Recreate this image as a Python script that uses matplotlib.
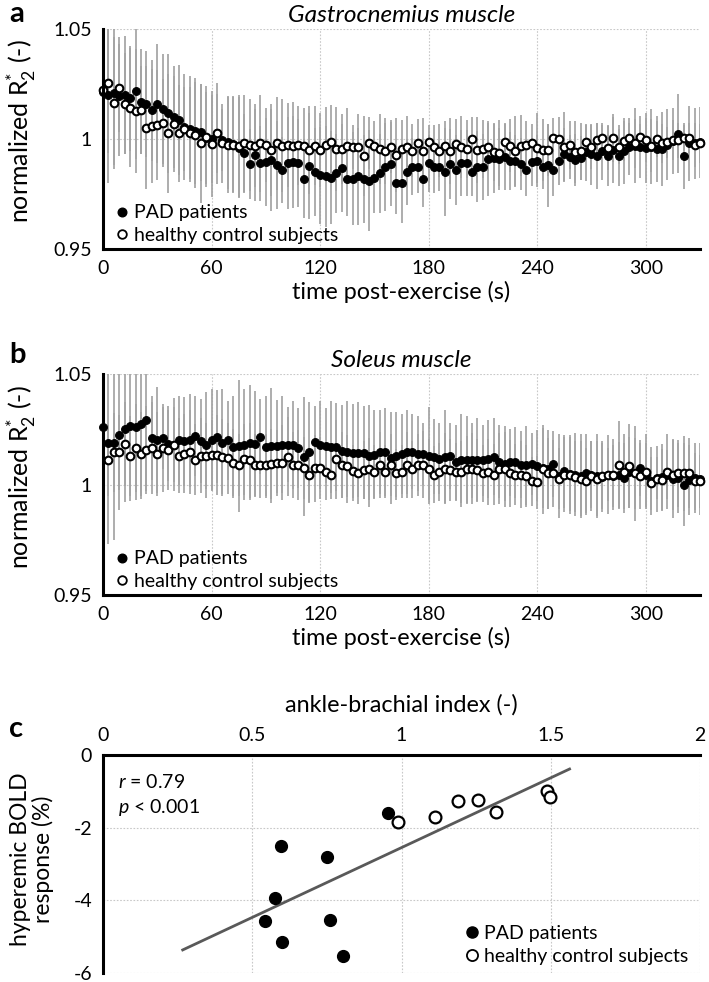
import numpy as np
import matplotlib
matplotlib.use('Agg')
import matplotlib.pyplot as plt
from matplotlib.lines import Line2D

plt.rcParams['font.family'] = ['Lato', 'DejaVu Sans']
plt.rcParams['mathtext.fontset'] = 'custom'
plt.rcParams['mathtext.rm'] = 'Lato'
plt.rcParams['mathtext.it'] = 'Lato:italic'

# ---------------- data ----------------
time_s = np.arange(0, 331, 3)          # sampling instants (s), every 3 s

# panel a : gastrocnemius
gas_hc = [1.0225, 1.0255, 1.0162, 1.0230, 1.0160, 1.0142, 1.0127, 1.0132, 1.0051, 1.0060,
          1.0064, 1.0074, 1.0026, 1.0068, 1.0026, 1.0045, 1.0026, 1.0018, 0.9980, 1.0010,
          0.9976, 1.0026, 0.9980, 0.9973, 0.9973, 0.9968, 0.9980, 0.9973, 0.9970, 0.9980,
          0.9973, 0.9950, 0.9980, 0.9970, 0.9972, 0.9970, 0.9972, 0.9970, 0.9950, 0.9970,
          0.9950, 0.9975, 0.9985, 0.9955, 0.9955, 0.9970, 0.9965, 0.9965, 0.9923, 0.9982,
          0.9970, 0.9955, 0.9946, 0.9965, 0.9927, 0.9955, 0.9965, 0.9946, 0.9980, 0.9946,
          0.9985, 0.9965, 0.9946, 0.9970, 0.9945, 0.9979, 0.9965, 0.9955, 1.0000, 0.9950,
          0.9955, 0.9965, 0.9940, 0.9935, 0.9985, 0.9970, 0.9945, 0.9970, 0.9973, 0.9980,
          0.9960, 0.9950, 0.9950, 1.0005, 1.0000, 0.9965, 0.9973, 0.9940, 0.9945, 0.9985,
          0.9965, 0.9995, 1.0005, 0.9960, 1.0005, 0.9965, 0.9990, 1.0005, 0.9980, 1.0010,
          0.9995, 0.9970, 1.0000, 0.9980, 0.9985, 0.9995, 0.9995, 1.0005, 1.0005, 0.9975, 0.9980]
gas_hc_sd = [0.030, 0.032, 0.030, 0.020, 0.023, 0.027, 0.028, 0.020, 0.028, 0.026,
             0.025, 0.020, 0.027, 0.022, 0.022, 0.019, 0.021, 0.024, 0.027, 0.023,
             0.024, 0.023, 0.018, 0.022, 0.022, 0.023, 0.022, 0.021, 0.019, 0.022,
             0.017, 0.021, 0.021, 0.021, 0.019, 0.020, 0.018, 0.017, 0.020, 0.018,
             0.017, 0.017, 0.017, 0.019, 0.016, 0.017, 0.010, 0.015, 0.018, 0.012,
             0.011, 0.016, 0.015, 0.012, 0.017, 0.013, 0.014, 0.012, 0.011, 0.015,
             0.008, 0.010, 0.012, 0.011, 0.015, 0.011, 0.014, 0.013, 0.010, 0.015,
             0.013, 0.011, 0.013, 0.015, 0.009, 0.012, 0.016, 0.014, 0.011, 0.009,
             0.016, 0.014, 0.012, 0.009, 0.010, 0.016, 0.011, 0.014, 0.013, 0.008,
             0.010, 0.008, 0.006, 0.010, 0.011, 0.008, 0.009, 0.007, 0.011, 0.006,
             0.010, 0.012, 0.008, 0.009, 0.007, 0.009, 0.008, 0.006, 0.007, 0.010, 0.009]
gas_pad = [1.0215, 1.0200, 1.0210, 1.0195, 1.0200, 1.0185, 1.0220, 1.0170, 1.0160, 1.0130,
           1.0160, 1.0135, 1.0117, 1.0100, 1.0086, 1.0055, 1.0045, 1.0036, 1.0030, 1.0005,
           1.0000, 1.0026, 0.9995, 0.9985, 0.9977, 0.9960, 0.9935, 0.9886, 0.9927, 0.9890,
           0.9895, 0.9905, 0.9880, 0.9860, 0.9890, 0.9895, 0.9890, 0.9820, 0.9877, 0.9850,
           0.9835, 0.9830, 0.9825, 0.9845, 0.9870, 0.9820, 0.9820, 0.9830, 0.9820, 0.9810,
           0.9825, 0.9845, 0.9875, 0.9886, 0.9800, 0.9800, 0.9850, 0.9875, 0.9875, 0.9820,
           0.9890, 0.9875, 0.9875, 0.9850, 0.9886, 0.9860, 0.9890, 0.9890, 0.9850, 0.9875,
           0.9872, 0.9910, 0.9913, 0.9910, 0.9918, 0.9900, 0.9900, 0.9886, 0.9860, 0.9895,
           0.9900, 0.9872, 0.9880, 0.9860, 0.9900, 0.9930, 0.9920, 0.9905, 0.9915, 0.9940,
           0.9930, 0.9925, 0.9945, 0.9925, 0.9950, 0.9925, 0.9945, 0.9965, 0.9970, 0.9965,
           0.9960, 0.9965, 0.9955, 0.9955, 0.9975, 0.9990, 1.0025, 0.9925, 0.9980, 0.9980, 0.9985]
gas_pad_sd = [0.040, 0.040, 0.033, 0.027, 0.027, 0.024, 0.031, 0.024, 0.024, 0.023,
              0.027, 0.025, 0.027, 0.023, 0.025, 0.024, 0.024, 0.024, 0.022, 0.021,
              0.020, 0.018, 0.014, 0.021, 0.022, 0.023, 0.018, 0.016, 0.021, 0.017,
              0.020, 0.023, 0.020, 0.015, 0.021, 0.021, 0.020, 0.018, 0.024, 0.020,
              0.022, 0.023, 0.021, 0.018, 0.020, 0.017, 0.021, 0.022, 0.020, 0.023,
              0.016, 0.018, 0.020, 0.019, 0.014, 0.018, 0.015, 0.013, 0.012, 0.013,
              0.013, 0.012, 0.011, 0.020, 0.016, 0.016, 0.015, 0.015, 0.011, 0.016,
              0.015, 0.017, 0.016, 0.014, 0.015, 0.013, 0.012, 0.012, 0.012, 0.011,
              0.012, 0.010, 0.019, 0.012, 0.011, 0.012, 0.010, 0.012, 0.010, 0.013,
              0.014, 0.015, 0.013, 0.014, 0.015, 0.014, 0.015, 0.013, 0.017, 0.014,
              0.016, 0.017, 0.015, 0.017, 0.016, 0.015, 0.018, 0.015, 0.017, 0.016, 0.016]

# panel b : soleus
sol_hc = [np.nan, 1.0110, 1.0145, 1.0145, 1.0182, 1.0130, 1.0165, 1.0140, 1.0155, 1.0165,
          1.0140, 1.0165, 1.0155, 1.0180, 1.0130, 1.0140, 1.0145, 1.0113, 1.0130, 1.0130,
          1.0133, 1.0133, 1.0125, 1.0118, 1.0099, 1.0088, 1.0114, 1.0110, 1.0088, 1.0088,
          1.0088, 1.0093, 1.0096, 1.0099, 1.0126, 1.0088, 1.0088, 1.0073, 1.0043, 1.0073,
          1.0073, 1.0058, 1.0043, 1.0114, 1.0088, 1.0084, 1.0060, 1.0052, 1.0065, 1.0070,
          1.0057, 1.0087, 1.0057, 1.0087, 1.0052, 1.0057, 1.0087, 1.0068, 1.0090, 1.0090,
          1.0068, 1.0045, 1.0057, 1.0071, 1.0066, 1.0057, 1.0057, 1.0068, 1.0071, 1.0066,
          1.0050, 1.0057, 1.0045, 1.0071, 1.0068, 1.0050, 1.0045, 1.0045, 1.0038, 1.0014,
          1.0010, 1.0068, 1.0050, 1.0050, 1.0027, 1.0045, 1.0045, 1.0035, 1.0027, 1.0014,
          1.0038, 1.0027, 1.0038, 1.0045, 1.0045, 1.0087, 1.0057, 1.0084, 1.0050, 1.0038,
          1.0057, 1.0005, 1.0024, 1.0020, 1.0057, 1.0045, 1.0050, 1.0050, 1.0052, 1.0014, 1.0014]
sol_hc_sd = [0.016, 0.016, 0.018, 0.017, 0.019, 0.018, 0.020, 0.019, 0.020, 0.021,
             0.019, 0.020, 0.018, 0.021, 0.017, 0.018, 0.019, 0.016, 0.017, 0.015,
             0.016, 0.018, 0.017, 0.016, 0.015, 0.014, 0.016, 0.017, 0.014, 0.015,
             0.014, 0.016, 0.015, 0.017, 0.018, 0.015, 0.016, 0.014, 0.012, 0.015,
             0.014, 0.013, 0.011, 0.018, 0.015, 0.014, 0.012, 0.011, 0.013, 0.014,
             0.012, 0.015, 0.012, 0.014, 0.011, 0.012, 0.015, 0.013, 0.014, 0.015,
             0.014, 0.013, 0.013, 0.016, 0.014, 0.013, 0.014, 0.015, 0.016, 0.014,
             0.013, 0.015, 0.014, 0.016, 0.017, 0.015, 0.014, 0.015, 0.014, 0.011,
             0.012, 0.020, 0.016, 0.015, 0.014, 0.017, 0.018, 0.016, 0.017, 0.015,
             0.016, 0.017, 0.015, 0.018, 0.016, 0.020, 0.017, 0.019, 0.016, 0.015,
             0.017, 0.012, 0.015, 0.014, 0.017, 0.016, 0.015, 0.017, 0.016, 0.013, 0.012]
sol_pad = [1.0262, 1.0190, 1.0190, 1.0224, 1.0250, 1.0265, 1.0262, 1.0275, 1.0290, 1.0210,
           1.0200, 1.0210, 1.0185, 1.0180, 1.0200, 1.0195, 1.0200, 1.0220, 1.0195, 1.0180,
           1.0200, 1.0216, 1.0190, 1.0200, 1.0170, 1.0175, 1.0180, 1.0190, 1.0185, 1.0216,
           1.0170, 1.0175, 1.0172, 1.0180, 1.0180, 1.0180, 1.0165, 1.0126, 1.0145, 1.0194,
           1.0178, 1.0175, 1.0170, 1.0170, 1.0150, 1.0148, 1.0144, 1.0142, 1.0144, 1.0130,
           1.0135, 1.0148, 1.0148, 1.0120, 1.0130, 1.0138, 1.0145, 1.0148, 1.0140, 1.0140,
           1.0130, 1.0125, 1.0117, 1.0125, 1.0130, 1.0100, 1.0110, 1.0110, 1.0110, 1.0110,
           1.0110, 1.0115, 1.0126, 1.0104, 1.0094, 1.0100, 1.0100, 1.0090, 1.0086, 1.0094,
           1.0085, 1.0075, 1.0068, 1.0094, 1.0040, 1.0060, 1.0048, 1.0045, 1.0040, 1.0050,
           1.0045, 1.0040, 1.0035, 1.0045, 1.0040, 1.0042, 1.0030, 1.0055, 1.0050, 1.0075,
           1.0045, 1.0015, 1.0030, 1.0035, 1.0045, 1.0025, 1.0030, 1.0000, 1.0020, 1.0030, 1.0025]
sol_pad_sd = [0.050, 0.046, 0.044, 0.034, 0.033, 0.034, 0.033, 0.034, 0.032, 0.019,
              0.024, 0.014, 0.017, 0.017, 0.020, 0.020, 0.021, 0.018, 0.019, 0.024,
              0.023, 0.021, 0.024, 0.018, 0.023, 0.030, 0.025, 0.026, 0.024, 0.017,
              0.023, 0.026, 0.021, 0.022, 0.017, 0.020, 0.018, 0.027, 0.023, 0.016,
              0.020, 0.017, 0.021, 0.020, 0.021, 0.023, 0.022, 0.023, 0.021, 0.023,
              0.020, 0.019, 0.020, 0.021, 0.020, 0.018, 0.019, 0.017, 0.017, 0.014,
              0.022, 0.017, 0.016, 0.021, 0.015, 0.017, 0.021, 0.020, 0.017, 0.019,
              0.016, 0.0175, 0.0175, 0.0165, 0.017, 0.015, 0.016, 0.015, 0.018, 0.014,
              0.016, 0.018, 0.018, 0.015, 0.019, 0.0165, 0.0167, 0.0187, 0.019, 0.018,
              0.015, 0.019, 0.016, 0.012, 0.014, 0.015, 0.016, 0.016, 0.0214, 0.0125,
              0.0145, 0.0155, 0.0096, 0.015, 0.011, 0.0175, 0.016, 0.019, 0.016, 0.016, 0.0165]

# panel c : ankle-brachial index vs hyperemic BOLD response
pad_abi = [0.597, 0.750, 0.577, 0.543, 0.760, 0.600, 0.804, 0.954]
pad_bold = [-2.50, -2.81, -3.93, -4.57, -4.55, -5.14, -5.53, -1.60]
hc_abi = [0.987, 1.113, 1.190, 1.257, 1.317, 1.487, 1.497]
hc_bold = [-1.84, -1.70, -1.27, -1.25, -1.57, -0.99, -1.16]
fit_range = [0.267, 1.563]
stats_text = ['$r$ = 0.79', '$p$ < 0.001']

time_ticks = [0, 60, 120, 180, 240, 300]
r2_ticks = [0.95, 1.0, 1.05]
r2_ticklabels = ['0.95', '1', '1.05']
abi_ticks = [0, 0.5, 1, 1.5, 2]
abi_ticklabels = ['0', '0.5', '1', '1.5', '2']
bold_ticks = [0, -2, -4, -6]
bold_ticklabels = ['0', '-2', '-4', '-6']

# ---------------- style ----------------
BAR = '#a3a3a3'
GRID = '#c8c8c8'
FS = 14          # tick labels
LFS = 14         # legends
XLFS = 16.8      # x axis titles
YLFS = 18        # y axis titles
TFS = 17.6       # panel titles

W, H = 709, 982
fig = plt.figure(figsize=(W / 100, H / 100), dpi=100)

def rect(l, t, r, b):
    return [l / W, 1 - b / H, (r - l) / W, (b - t) / H]

def legend_handles(ms):
    return [Line2D([], [], ls='none', marker='o', ms=ms, mfc='black', mec='black'),
            Line2D([], [], ls='none', marker='o', ms=ms, mfc='white', mec='black', mew=1.3)]

def ts_panel(ax, pad, pad_sd, hc, hc_sd, title, top_px, bot_px):
    ax.errorbar(time_s, hc, yerr=hc_sd, fmt='none', ecolor=BAR, elinewidth=1.25, capsize=0, zorder=1)
    ax.errorbar(time_s, pad, yerr=pad_sd, fmt='none', ecolor=BAR, elinewidth=1.25, capsize=0, zorder=1)
    ax.plot(time_s, pad, ls='none', marker='o', ms=5.6, mfc='black', mec='black', mew=0.8,
            zorder=3, clip_on=False)
    ax.plot(time_s, hc, ls='none', marker='o', ms=5.5, mfc='white', mec='black', mew=1.5,
            zorder=4, clip_on=False)
    ax.set_xlim(0, 330)
    ax.set_ylim(0.95, 1.05)
    ax.set_xticks(time_ticks)
    ax.set_xticklabels([str(v) for v in time_ticks])
    ax.set_yticks(r2_ticks)
    ax.set_yticklabels(r2_ticklabels)
    ax.grid(True, ls=(0, (1.5, 1.5)), color=GRID, lw=0.8, zorder=0)
    ax.set_axisbelow(True)
    for s in ['top', 'right']:
        ax.spines[s].set_visible(False)
    for s in ['left', 'bottom']:
        ax.spines[s].set_linewidth(2.2)
        ax.spines[s].set_zorder(5)
    ax.tick_params(length=0, labelsize=FS, pad=8)
    h = bot_px - top_px
    ax.set_xlabel('time post-exercise (s)', fontsize=XLFS)
    ax.xaxis.set_label_coords(0.5, -32 / h, transform=ax.transAxes)
    ax.set_ylabel('normalized R$_2^{*}$ (-)', fontsize=YLFS)
    ax.yaxis.set_label_coords((38 - 103) / 597, 0.535, transform=ax.transAxes)
    ax.set_title(title, fontsize=TFS, style='italic', pad=5)
    ax.legend(legend_handles(6.2), ['PAD patients', 'healthy control subjects'],
              loc='lower left', bbox_to_anchor=(0.0, -0.04), frameon=False,
              fontsize=LFS, handlelength=0.6, handletextpad=0.3,
              labelspacing=0.3, borderaxespad=0.3)

ax_a = fig.add_axes(rect(103, 29, 700, 249))
ts_panel(ax_a, gas_pad, gas_pad_sd, gas_hc, gas_hc_sd, 'Gastrocnemius muscle', 29, 249)
ax_b = fig.add_axes(rect(103, 374, 700, 595))
ts_panel(ax_b, sol_pad, sol_pad_sd, sol_hc, sol_hc_sd, 'Soleus muscle', 374, 595)

# panel c
ax_c = fig.add_axes(rect(103, 755, 700, 973))
all_abi = np.array(pad_abi + hc_abi)
all_bold = np.array(pad_bold + hc_bold)
slope, icpt = np.polyfit(all_abi, all_bold, 1)
xs = np.array(fit_range)
ax_c.plot(xs, slope * xs + icpt, color='#595959', lw=2.0, zorder=2)
ax_c.plot(pad_abi, pad_bold, ls='none', marker='o', ms=8.5, mfc='black', mec='black', zorder=3)
ax_c.plot(hc_abi, hc_bold, ls='none', marker='o', ms=8.5, mfc='white', mec='black', mew=1.6, zorder=4)
ax_c.set_xlim(0, 2)
ax_c.set_ylim(-6, 0)
ax_c.xaxis.tick_top()
ax_c.xaxis.set_label_position('top')
ax_c.set_xticks(abi_ticks)
ax_c.set_xticklabels(abi_ticklabels)
ax_c.set_yticks(bold_ticks)
ax_c.set_yticklabels(bold_ticklabels)
ax_c.grid(True, ls=(0, (1.5, 1.5)), color=GRID, lw=0.8, zorder=0)
ax_c.set_axisbelow(True)
for s in ['bottom', 'right']:
    ax_c.spines[s].set_visible(False)
for s in ['left', 'top']:
    ax_c.spines[s].set_linewidth(2.2)
    ax_c.spines[s].set_zorder(5)
ax_c.tick_params(length=0, labelsize=FS, pad=8)
ax_c.set_xlabel('ankle-brachial index (-)', fontsize=XLFS)
ax_c.xaxis.set_label_coords(0.5, 1 + (755 - 712) / 218, transform=ax_c.transAxes)
ax_c.set_ylabel('hyperemic BOLD\nresponse (%)', fontsize=16.5, linespacing=1.05)
ax_c.yaxis.set_label_coords((54 - 103) / 597, 0.52, transform=ax_c.transAxes)
ax_c.text(0.025, 0.875, stats_text[0], transform=ax_c.transAxes, fontsize=FS, va='center')
ax_c.text(0.025, 0.76, stats_text[1], transform=ax_c.transAxes, fontsize=FS, va='center')
ax_c.legend(legend_handles(8), ['PAD patients', 'healthy control subjects'],
            loc='lower right', bbox_to_anchor=(1.0, -0.015), frameon=False,
            fontsize=LFS, handlelength=0.6, handletextpad=0.3,
            labelspacing=0.3, borderaxespad=0.2)

# panel letters
for letter, base_px in [('a', 22), ('b', 363), ('c', 737)]:
    fig.text(9 / W, 1 - base_px / H, letter, fontsize=21, fontweight='bold',
             ha='left', va='baseline')

fig.savefig('out.png', dpi=100)
